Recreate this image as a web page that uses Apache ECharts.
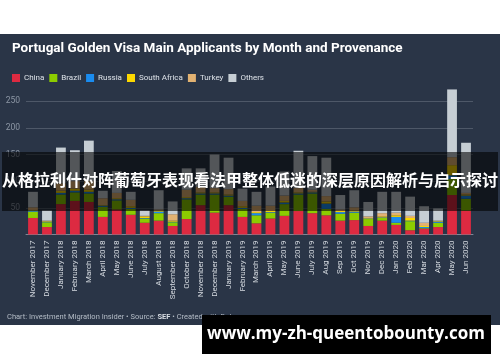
<!DOCTYPE html>
<html>
<head>
<meta charset="utf-8">
<script src="https://cdn.jsdelivr.net/npm/echarts@6/dist/echarts.min.js"></script>
<style>html,body{margin:0;padding:0;background:#fff}#c{width:500px;height:362px}</style>
</head>
<body>
<div id="c"></div>
<script>
const categories = ['November 2017','December 2017','January 2018','February 2018','March 2018','April 2018','May 2018','June 2018','July 2018','August 2018','September 2018','October 2018','November 2018','December 2018','January 2019','February 2019','March 2019','April 2019','May 2019','June 2019','July 2019','Aug 2019','Sep 2019','Oct 2019','Nov 2019','Dec 2019','Jan 2020','Feb 2020','Mar 2020','Apr 2020','May 2020','Jun 2020'];
const china       = [31,14,57,63,61,33,47,37,22,26,16,29,55,41,55,33,21,30,35,44,40,36,26,27,16,26,18, 8,11,14, 74,45];
const brazil      = [12, 9,18,16,16,19,17,11, 8,14, 7,37,20,34,16,15,15,11,22,31,37,12,13,14,13, 5, 4,17, 1, 8, 30,22];
const russia      = [ 2, 1, 3, 3, 3, 2, 2, 2, 1, 3, 1, 2, 2, 2, 2, 2, 4, 1, 3, 2, 2,10, 3, 2, 1, 1,11, 1, 2, 2,  7, 6];
const southAfrica = [ 1, 1, 4, 4, 4, 1, 2, 3, 3, 2, 2, 2, 2, 2, 2, 3, 2, 2, 3, 2, 1, 4, 2, 2, 1, 2, 3, 5, 2, 1, 19, 2];
const turkey      = [ 5, 1,14,14,16,13,10,12, 1, 2,12,14,10, 8,10,10,12,10,10, 8, 4,10, 3, 6, 3, 6, 5, 4, 6, 1, 15, 3];
const others      = [29,19,67,58,76,14,41,15,10,36,24,40,35,63,59,23,26,36,45,70,63,72,27,32,27,40,39,36,31,23,127,94];
const yTicks = [50,100,150,200,250];

const seriesDefs = [
  ['China', china, '#dd2a41'],
  ['Brazil', brazil, '#8ccc00'],
  ['Russia', russia, '#1a8cf0'],
  ['South Africa', southAfrica, '#fcd800'],
  ['Turkey', turkey, '#e2b272'],
  ['Others', others, '#c6ced4']
];

const chart = echarts.init(document.getElementById('c'), null, {renderer:'canvas'});
chart.setOption({
  backgroundColor: '#2a3547',
  animation: false,
  title: {
    text: 'Portugal Golden Visa Main Applicants by Month and Provenance',
    left: 7, top: 37,
    textStyle: {color:'#ffffff', fontSize: 13.5, fontWeight:'bold', fontFamily:'Roboto'}
  },
  legend: {
    left: 7, top: 69,
    itemWidth: 8, itemHeight: 8, itemGap: 5,
    icon: 'rect',
    textStyle: {color:'#dde2e8', fontSize: 8, fontFamily:'Roboto', padding:[0,0,0,-1]},
    data: seriesDefs.map(s=>s[0])
  },
  grid: {left: 26, right: 27, top: 74.5, bottom: 127.5},
  xAxis: {
    type: 'category',
    data: categories,
    axisLine: {lineStyle:{color:'#7c8796', width:1}},
    axisTick: {show:false},
    axisLabel: {rotate: 90, color:'#d5dae0', fontSize: 8, fontFamily:'Roboto', margin: 6, interval: 0}
  },
  yAxis: {
    type: 'value', min: 0, max: 300, interval: 50,
    axisLine: {show:false}, axisTick:{show:false},
    splitLine: {lineStyle:{color:['rgba(0,0,0,0)','#4e5868','#4e5868','#4e5868','#4e5868','#4e5868','rgba(0,0,0,0)'], width:1}},
    axisLabel: {color:'#8d97a5', fontSize: 8.5, fontFamily:'Roboto', margin: 6,
      formatter: v => yTicks.indexOf(v) >= 0 ? String(v) : ''}
  },
  series: seriesDefs.map(s => ({
    name: s[0], type: 'bar', stack: 'total', data: s[1],
    barCategoryGap: '30%',
    itemStyle: {color: s[2]},
    emphasis: {disabled:true}
  })),
  graphic: [
    {type:'rect', z:100, shape:{x:0,y:0,width:500,height:34}, style:{fill:'#ffffff'}},
    {type:'rect', z:100, shape:{x:0,y:325,width:500,height:37}, style:{fill:'#ffffff'}},
    {type:'text', z:101, left: 7, top: 313,
      style:{rich:{a:{fill:'#b4bcc6', fontSize:7.5, fontFamily:'Roboto'}, b:{fill:'#d8dde3', fontSize:7.5, fontWeight:'bold', fontFamily:'Roboto'}},
        text:'{a|Chart: Investment Migration Insider • Source: }{b|SEF}{a| • Created with Datawrapper}'}},
    {type:'rect', z:110, shape:{x:2,y:152,width:496,height:59}, style:{fill:'rgba(0,0,0,0.58)'}},
    {type:'text', z:111, left:'center', top: 172,
      style:{text:'从格拉利什对阵葡萄牙表现看法甲整体低迷的深层原因解析与启示探讨', fill:'#ffffff', fontSize:16, fontWeight:'bold', fontFamily:'Noto Sans CJK SC'}},
    {type:'rect', z:110, shape:{x:202,y:315,width:289,height:39}, style:{fill:'#000000'}},
    {type:'text', z:111, x: 346, y: 334,
      style:{text:'www.my-zh-queentobounty.com', fill:'#ffffff', fontSize:17, fontWeight:'bold', fontFamily:'Open Sans', align:'center', verticalAlign:'middle'}}
  ]
});
</script>
</body>
</html>
